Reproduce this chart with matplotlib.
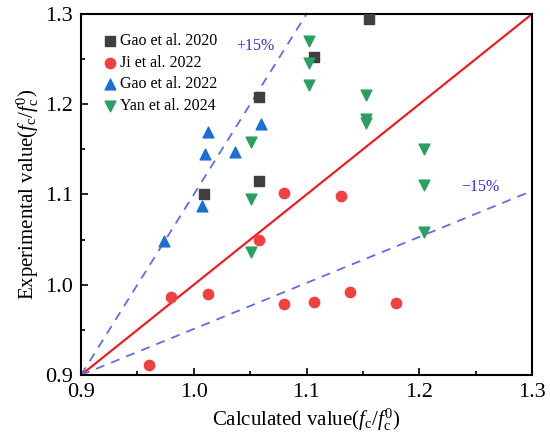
import numpy as np
import matplotlib.pyplot as plt

plt.rcParams['font.family'] = ['Liberation Serif', 'DejaVu Serif']
plt.rcParams['mathtext.fontset'] = 'custom'
plt.rcParams['mathtext.rm'] = 'Liberation Serif'
plt.rcParams['mathtext.it'] = 'Liberation Serif:italic'

# Data
gao2020_x = [1.009, 1.058, 1.058, 1.107, 1.155]
gao2020_y = [1.101, 1.208, 1.115, 1.252, 1.294]

ji2022_x = [0.960, 0.980, 1.013, 1.058, 1.080, 1.107, 1.139, 1.179, 1.080, 1.131]
ji2022_y = [0.911, 0.986, 0.990, 1.050, 0.979, 0.981, 0.992, 0.980, 1.102, 1.098]

gao2022_x = [1.013, 1.010, 1.037, 1.060, 1.007, 0.974]
gao2022_y = [1.169, 1.145, 1.147, 1.178, 1.087, 1.049]

yan2024_x = [1.102, 1.102, 1.102, 1.051, 1.051, 1.153, 1.153, 1.153, 1.204, 1.204, 1.204, 1.051]
yan2024_y = [1.270, 1.246, 1.221, 1.158, 1.095, 1.210, 1.184, 1.179, 1.150, 1.110, 1.058, 1.036]

# reference lines
ideal_x = [0.9, 1.3]
ideal_y = [0.9, 1.3]
upper_x = [0.9, 1.1]
upper_y = [0.9, 1.3]
lower_x = [0.9, 1.3]
lower_y = [0.9, 1.104]

fig = plt.figure(figsize=(5.5, 4.44), dpi=100)
ax = fig.add_axes([0.1473, 0.1554, 0.82, 0.8131])

ax.plot(ideal_x, ideal_y, color='#ff1010', lw=1.5, zorder=2)
ax.plot(upper_x, upper_y, color='#5a6ef0', lw=1.3, ls=(0, (5, 4)), zorder=2)
ax.plot(lower_x, lower_y, color='#5a6ef0', lw=1.3, ls=(0, (5, 4)), zorder=2)

ax.scatter(gao2020_x, gao2020_y, marker='s', s=45, color='#404040', label='Gao et al. 2020', zorder=3)
ax.scatter(ji2022_x, ji2022_y, marker='o', s=55, color='#f04040', label='Ji et al. 2022', zorder=3)
ax.scatter(gao2022_x, gao2022_y, marker='^', s=60, color='#1a6fd6', label='Gao et al. 2022', zorder=3)
ax.scatter(yan2024_x, yan2024_y, marker='v', s=60, color='#2aa060', label='Yan et al. 2024', zorder=3)

ax.text(1.055, 1.264, '+15%', color='#3030e0', fontsize=11.5, ha='center', va='center')
ax.text(1.254, 1.108, '\u221215%', color='#3030e0', fontsize=11.5, ha='center', va='center')

ax.set_xlim(0.9, 1.3)
ax.set_ylim(0.9, 1.3)
ax.set_xticks([0.9, 1.0, 1.1, 1.2, 1.3])
ax.set_yticks([0.9, 1.0, 1.1, 1.2, 1.3])
ax.set_xticks(np.arange(0.95, 1.3, 0.1), minor=True)
ax.set_yticks(np.arange(0.95, 1.3, 0.1), minor=True)
ax.tick_params(which='both', direction='in', labelsize=16, width=1.2)
ax.tick_params(which='major', length=5, pad=6)
ax.tick_params(which='minor', length=3)
for s in ax.spines.values():
    s.set_linewidth(1.5)

ax.set_xlabel(r'Calculated value($f_\mathrm{c}/f^0_\mathrm{c}$)', fontsize=15, labelpad=3)
ax.set_ylabel(r'Experimental value($f_\mathrm{c}/f^0_\mathrm{c}$)', fontsize=15, labelpad=3)

ax.legend(loc='upper left', frameon=False, fontsize=11.5, handletextpad=0.05, handlelength=1.2,
          labelspacing=0.35, borderaxespad=0.9, borderpad=0.3, scatterpoints=1)

fig.savefig('out.png', dpi=100)
